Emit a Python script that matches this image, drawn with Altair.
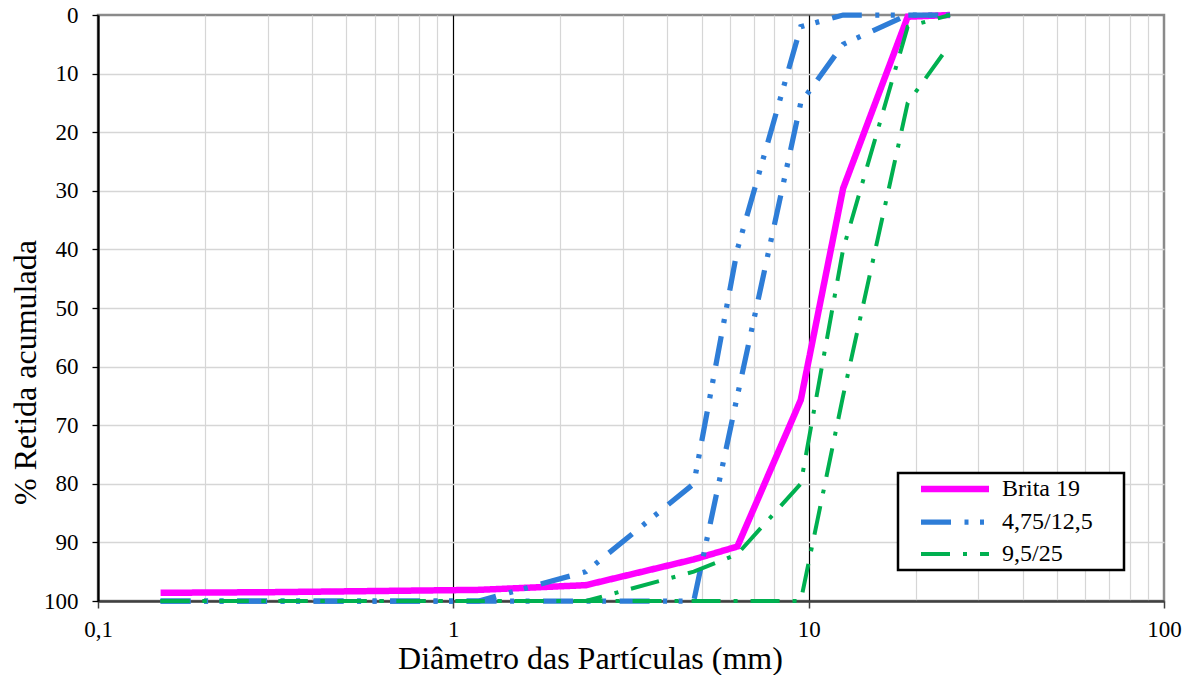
import altair as alt
import pandas as pd

# Peneiras (mm) e porcentagens retidas acumuladas
aberturas = [0.15, 0.3, 0.6, 1.18, 2.36, 4.75, 6.3, 9.5, 12.5, 19, 25]
brita_19 = [98.6, 98.5, 98.3, 98.1, 97.3, 92.9, 90.7, 65.7, 29.6, 0.3, 0.0]

# Limites granulométricos (NBR 7211)
zona_475_125_a = [100, 100, 100, 100, 95, 80, 40, 2, 0, 0, 0]
zona_475_125_b = [100, 100, 100, 100, 100, 100, 65, 15, 5, 0, 0]
zona_95_25_a = [100, 100, 100, 100, 100, 95, 92, 80, 40, 2, 0]
zona_95_25_b = [100, 100, 100, 100, 100, 100, 100, 100, 65, 15, 5]

series = ["Brita 19", "4,75/12,5", "9,5/25"]
cores = ["#FF00FF", "#2E7DD7", "#00B050"]
tracos = [[1, 0], [30, 13.5, 4, 11.5, 4, 13.5], [29, 13, 4, 13]]
espessuras = [6.5, 4, 4]

curvas = [
    ("Brita 19", "a", brita_19),
    ("4,75/12,5", "a", zona_475_125_a),
    ("4,75/12,5", "b", zona_475_125_b),
    ("9,5/25", "a", zona_95_25_a),
    ("9,5/25", "b", zona_95_25_b),
]
linhas = []
for serie, curva, valores in curvas:
    for i, (d, v) in enumerate(zip(aberturas, valores)):
        linhas.append({"serie": serie, "curva": serie + curva, "ordem": i,
                       "abertura": d, "retida": v})
df = pd.DataFrame(linhas)

FONTE = "Liberation Serif"
x_valores = [round(m * 10 ** e, 6) for e in (-1, 0, 1) for m in range(1, 10)] + [100]
maiores = "datum.value == 1 || datum.value == 10"
extremos_x = "datum.value == 0.1 || datum.value == 100"
decadas = "datum.value == 0.1 || datum.value == 1 || datum.value == 10 || datum.value == 100"

# título invisível à direita apenas para dar folga à caixa da legenda
legenda = alt.Legend(
    title="\u00a0", titleOrient="right", titleFontSize=2, titlePadding=27,
    orient="none", legendX=800, legendY=458, direction="vertical",
    fillColor="white", padding=4,
    symbolType="M-1,0H7.5", symbolSize=256, symbolOffset=15, labelOffset=61,
    labelFont=FONTE, labelFontSize=24, labelColor="black", rowPadding=8,
)

chart = alt.Chart(df).mark_line().encode(
    x=alt.X(
        "abertura:Q",
        scale=alt.Scale(type="log", domain=[0.1, 100], nice=False),
        axis=alt.Axis(
            values=x_valores,
            title="Diâmetro das Partículas (mm)",
            labelExpr="datum.value == 0.1 ? '0,1' : datum.value == 1 ? '1' : "
                      "datum.value == 10 ? '10' : datum.value == 100 ? '100' : ''",
            grid=True,
            gridColor={"condition": {"test": maiores, "value": "#000000"}, "value": "#D6D6D6"},
            gridWidth=1.2,
            gridOpacity={"condition": {"test": extremos_x, "value": 0}, "value": 1},
            tickOpacity={"condition": {"test": decadas, "value": 1}, "value": 0},
            tickSize=7, tickColor="#404040", tickWidth=1.5,
            domainColor="#404040", domainWidth=2.3,
            labelFont=FONTE, labelFontSize=23, labelColor="black", labelPadding=10,
            labelOverlap=False, labelFlush=False,
            titleFont=FONTE, titleFontSize=32, titleFontWeight="normal", titleColor="black",
            titleX=492, titleY=67, titleBaseline="alphabetic", titleAlign="center",
        ),
    ),
    y=alt.Y(
        "retida:Q",
        scale=alt.Scale(domain=[0, 100], reverse=True, nice=False),
        axis=alt.Axis(
            values=list(range(0, 101, 10)),
            title="% Retida acumulada",
            grid=True, gridColor="#D6D6D6", gridWidth=1.3,
            gridOpacity={"condition": {"test": "datum.value == 0 || datum.value == 100", "value": 0}, "value": 1},
            tickSize=6, tickColor="black", tickWidth=1.3,
            domainColor="black", domainWidth=2.3,
            labelFont=FONTE, labelFontSize=23, labelColor="black", labelPadding=14,
            titleFont=FONTE, titleFontSize=32, titleFontWeight="normal", titleColor="black",
            titleX=-63, titleY=357, titleAngle=270, titleBaseline="alphabetic", titleAlign="center",
        ),
    ),
    color=alt.Color("serie:N", scale=alt.Scale(domain=series, range=cores), legend=legenda),
    strokeDash=alt.StrokeDash("serie:N", scale=alt.Scale(domain=series, range=tracos), legend=legenda),
    strokeWidth=alt.StrokeWidth("serie:N", scale=alt.Scale(domain=series, range=espessuras), legend=legenda),
    detail="curva:N",
    order="ordem:Q",
).properties(
    width=1066, height=586,
    autosize=alt.AutoSizeParams(type="none"),
    padding={"left": 98, "top": 15, "right": 30, "bottom": 74},
    background="white",
).configure(
    font=FONTE,
).configure_view(
    stroke="#8A8A8A", strokeWidth=2.5,
).configure_legend(
    strokeColor="black", strokeWidth=2.5,
    labelFont=FONTE, labelFontSize=24, labelColor="black",
)

chart.save("out.html", embed_options={"renderer": "svg", "actions": False})
